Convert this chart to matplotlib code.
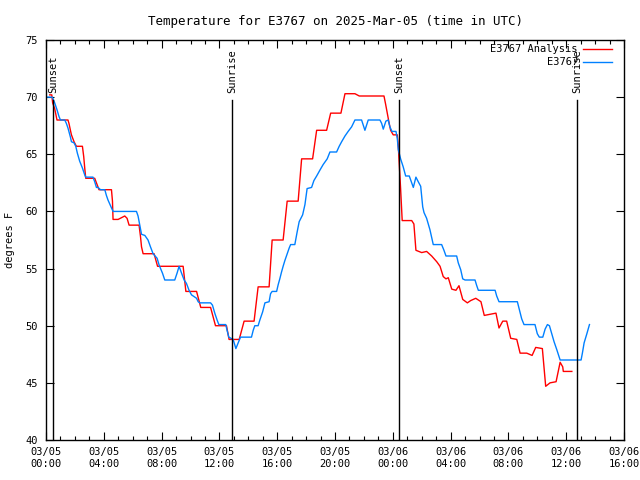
import matplotlib
matplotlib.use("Agg")
import matplotlib.pyplot as plt
import matplotlib.dates as mdates
from datetime import datetime, timedelta

# hours after 2025-03-05 00:00 UTC, degrees F
analysis_hours = [0.26, 0.40, 0.46, 0.60, 0.76, 1.52, 1.59, 1.69, 1.76, 1.94, 2.10, 2.52, 2.61, 2.68, 2.75,
                  3.37, 3.49, 3.67, 4.53, 4.60, 4.64, 4.99, 5.45, 5.61, 5.75, 6.44, 6.54, 6.61, 6.72, 7.48,
                  7.72, 9.49, 9.68, 10.42, 10.71, 11.39, 11.73, 12.49, 12.67, 13.37, 13.71, 14.40, 14.68,
                  15.44, 15.65, 16.41, 16.69, 17.45, 17.69, 18.45, 18.73, 19.42, 19.70, 20.41, 20.69, 21.38,
                  21.68, 23.39, 23.50, 23.75, 23.85, 24.03, 24.31, 24.38, 24.54, 24.65, 25.31, 25.46, 25.60,
                  26.00, 26.34, 26.69, 27.04, 27.27, 27.49, 27.68, 27.84, 28.08, 28.37, 28.58, 28.84, 29.16,
                  29.39, 29.74, 30.10, 30.33, 30.73, 31.14, 31.35, 31.61, 31.88, 32.16, 32.58, 32.81, 33.27,
                  33.64, 33.89, 34.35, 34.58, 34.88, 35.30, 35.58, 35.76, 35.80, 36.39]
analysis_temps = [70.2, 70.2, 69.5, 69.0, 68.0, 68.0, 67.7, 67.1, 66.7, 66.1, 65.7, 65.7, 64.8, 63.8, 62.9,
                  62.9, 62.5, 61.9, 61.9, 60.9, 59.3, 59.3, 59.6, 59.4, 58.8, 58.8, 57.8, 56.9, 56.3, 56.3,
                  55.2, 55.2, 53.0, 53.0, 51.6, 51.6, 50.0, 50.0, 48.8, 48.8, 50.4, 50.4, 53.4,
                  53.4, 57.5, 57.5, 60.9, 60.9, 64.6, 64.6, 67.1, 67.1, 68.6, 68.6, 70.3, 70.3,
                  70.1, 70.1, 69.4, 67.7, 67.1, 66.7, 66.7, 65.7, 62.0, 59.2, 59.2, 58.9, 56.6,
                  56.4, 56.5, 56.1, 55.6, 55.2, 54.3, 54.1, 54.2, 53.2, 53.1, 53.5, 52.3, 52.0,
                  52.2, 52.4, 52.1, 50.9, 51.0, 51.1, 49.8, 50.4, 50.4, 48.9, 48.8, 47.6, 47.6,
                  47.4, 48.1, 48.0, 44.7, 45.0, 45.1, 46.8, 46.4, 46.0, 46.0]

obs_hours = [0.00, 0.44, 0.60, 0.76, 0.90, 1.00, 1.30, 1.41, 1.52, 1.69, 1.76, 1.94, 2.06, 2.17, 2.33, 2.52,
             2.68, 2.75, 3.25, 3.37, 3.49, 3.60, 3.77, 4.07, 4.18, 4.29, 4.64, 6.26, 6.37, 6.49, 6.61, 6.84,
             7.06, 7.23, 7.41, 7.69, 7.83, 8.06, 8.22, 8.91, 9.07, 9.21, 9.38, 9.56, 9.72, 9.90, 10.07,
             10.42, 10.53, 10.64, 11.39, 11.52, 11.68, 11.84, 11.96, 12.44, 12.53, 12.65, 12.95, 13.14,
             13.30, 13.46, 14.22, 14.34, 14.45, 14.68, 14.80, 14.99, 15.15, 15.44, 15.54, 15.65, 15.96,
             16.07, 16.18, 16.30, 16.41, 16.53, 16.69, 16.83, 16.93, 17.22, 17.38, 17.52, 17.76, 17.92,
             18.07, 18.38, 18.54, 18.73, 18.95, 19.18, 19.46, 19.65, 20.11, 20.29, 20.46, 20.69, 20.91,
             21.15, 21.38, 21.84, 22.07, 22.30, 23.11, 23.23, 23.34, 23.52, 23.68, 23.80, 23.94, 24.22,
             24.31, 24.38, 24.54, 24.72, 24.89, 25.14, 25.31, 25.42, 25.60, 25.76, 25.93, 26.07, 26.16,
             26.34, 26.57, 26.80, 27.38, 27.54, 27.68, 28.42, 28.53, 28.70, 28.84, 29.00, 29.69, 29.81,
             29.92, 31.08, 31.19, 31.35, 32.62, 32.76, 32.92, 33.08, 33.84, 34.00, 34.14, 34.38, 34.54,
             34.70, 34.84, 35.00, 35.16, 35.35, 35.58, 37.03, 37.12, 37.24, 37.43, 37.61]
obs_temps = [70.0, 70.0, 69.5, 68.9, 68.3, 68.0, 68.0, 67.7, 67.3, 66.5, 66.1, 66.0, 65.7, 65.1, 64.4, 63.8,
             63.2, 63.0, 63.0, 62.6, 62.1, 62.1, 61.9, 61.9, 61.4, 61.0, 60.0, 60.0, 59.6, 58.8, 58.0, 57.9,
             57.5, 56.9, 56.3, 55.9, 55.3, 54.6, 54.0, 54.0, 54.6, 55.2, 54.6, 54.0, 53.7, 53.1, 52.7,
             52.4, 52.1, 52.0, 52.0, 51.8, 51.1, 50.5, 50.1, 50.1, 49.6, 49.0, 48.8, 48.0,
             48.5, 49.0, 49.0, 49.6, 50.0, 50.0, 50.5, 51.2, 52.0, 52.1, 52.8, 53.0, 53.0,
             53.6, 54.1, 54.7, 55.2, 55.7, 56.3, 56.8, 57.1, 57.1, 58.2, 59.1, 59.7, 60.6,
             62.0, 62.1, 62.7, 63.1, 63.6, 64.1, 64.6, 65.2, 65.2, 65.7, 66.1, 66.6, 67.0,
             67.4, 68.0, 68.0, 67.1, 68.0, 68.0, 67.7, 67.2, 67.9, 68.0, 67.4, 67.0, 67.0,
             66.4, 65.4, 64.6, 63.9, 63.1, 63.1, 62.5, 62.1, 63.0, 62.6, 62.2, 60.4, 59.9,
             59.4, 58.4, 57.1, 57.1, 56.6, 56.1, 56.1, 55.5, 54.9, 54.1, 54.0, 54.0, 53.5,
             53.1, 53.1, 52.6, 52.1, 52.1, 51.4, 50.6, 50.1, 50.1, 49.3, 49.0, 49.0, 49.7,
             50.1, 50.0, 49.3, 48.6, 47.9, 47.0, 47.0, 47.6, 48.5, 49.3, 50.1]

sun_labels = ["Sunset", "Sunrise", "Sunset", "Sunrise"]
sun_hours = [0.47, 12.88, 24.42, 36.78]

start = datetime(2025, 3, 5)


def to_time(hours):
    return [start + timedelta(hours=h) for h in hours]


plt.rcParams['font.family'] = ['DejaVu Sans Mono']
plt.rcParams['font.size'] = 7.5

fig = plt.figure(figsize=(6.4, 4.8), dpi=100)
ax = fig.add_axes([46 / 640, 40 / 480, 578 / 640, 400 / 480])

ax.plot(to_time(analysis_hours), analysis_temps, color='#ff0000', linewidth=1.0)
ax.plot(to_time(obs_hours), obs_temps, color='#0080ff', linewidth=1.0)

for name, h in zip(sun_labels, sun_hours):
    t = start + timedelta(hours=h)
    ax.plot([t, t], [40, 69.75], color='black', linewidth=1.0)
    ax.text(t, 70.35, name, rotation=90, ha='center', va='bottom')

ax.set_xlim(start, start + timedelta(hours=40))
ax.set_ylim(40, 75)
ax.set_yticks([40, 45, 50, 55, 60, 65, 70, 75])
ax.xaxis.set_major_locator(mdates.HourLocator(byhour=range(0, 24, 4)))
ax.xaxis.set_minor_locator(mdates.HourLocator())
ax.xaxis.set_major_formatter(mdates.DateFormatter('%m/%d\n%H:%M'))
ax.tick_params(which='both', direction='in', top=True, right=True, width=0.8)
ax.tick_params(which='major', length=6, pad=5)
ax.tick_params(which='minor', length=3)
ax.tick_params(axis='y', pad=6)
for s in ax.spines.values():
    s.set_linewidth(1.0)

ax.set_ylabel('degrees F')
ax.yaxis.set_label_coords(-31 / 578, 0.5)
ax.set_title('Temperature for E3767 on 2025-Mar-05 (time in UTC)', pad=11)

# key in the top right corner
ax.text(0.920, 0.9775, 'E3767 Analysis', transform=ax.transAxes, ha='right', va='center')
ax.plot([0.929, 0.979], [0.9775, 0.9775], transform=ax.transAxes, color='#ff0000', linewidth=1.0)
ax.text(0.920, 0.945, 'E3767', transform=ax.transAxes, ha='right', va='center')
ax.plot([0.929, 0.979], [0.945, 0.945], transform=ax.transAxes, color='#0080ff', linewidth=1.0)

fig.savefig('out.png', dpi=100)
